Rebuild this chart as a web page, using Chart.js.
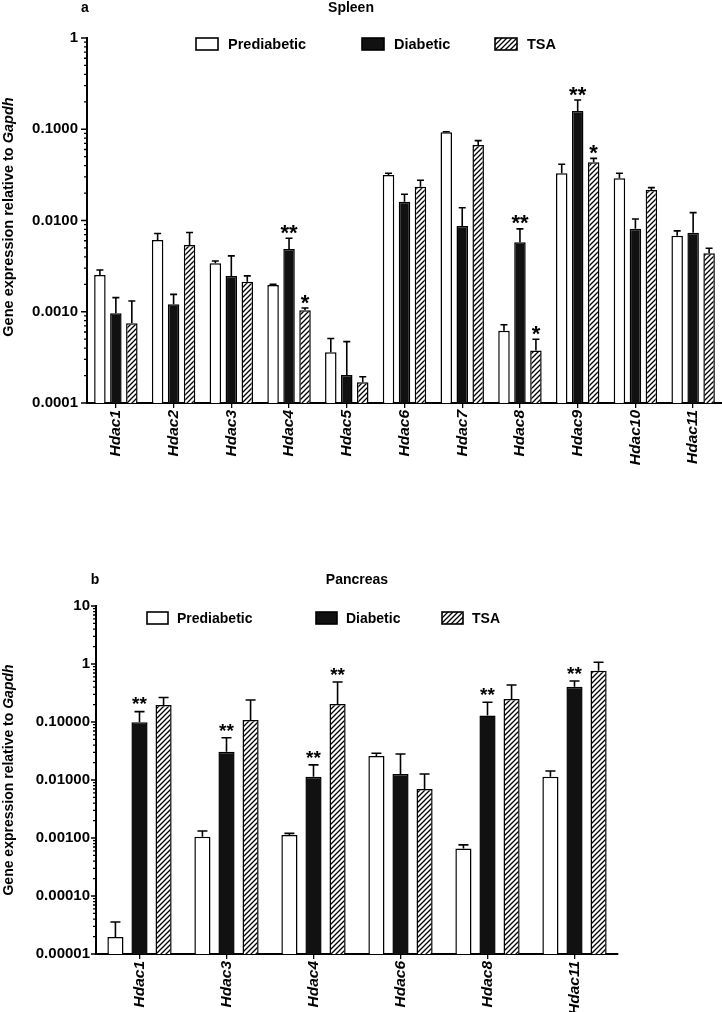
<!DOCTYPE html>
<html><head><meta charset="utf-8">
<script src="https://cdn.jsdelivr.net/npm/chart.js@4.4.1/dist/chart.umd.min.js"></script>
<style>
html,body{margin:0;padding:0;background:#fff;overflow:hidden;width:722px;height:1012px;}
canvas{position:absolute;left:0;}
#ca{top:0}
#cb{top:490px}
</style></head><body>
<canvas id="ca" width="722" height="490"></canvas>
<canvas id="cb" width="722" height="522"></canvas>
<script>
const seriesNames = ['Prediabetic', 'Diabetic', 'TSA'];

// ---- Panel a: Spleen ----
const spleenGenes = ['Hdac1','Hdac2','Hdac3','Hdac4','Hdac5','Hdac6','Hdac7','Hdac8','Hdac9','Hdac10','Hdac11'];
const spleenPrediabetic    = [0.00253, 0.0061, 0.0034, 0.00196, 0.00036, 0.0315, 0.0925, 0.00062, 0.0329, 0.029, 0.0068];
const spleenPrediabeticErr = [0.00287, 0.0072, 0.0036, 0.0020, 0.00051, 0.0330, 0.0940, 0.00072, 0.0413, 0.0329, 0.0077];
const spleenDiabetic       = [0.00096, 0.00121, 0.00247, 0.00487, 0.000203, 0.0161, 0.0087, 0.00577, 0.158, 0.0081, 0.00735];
const spleenDiabeticErr    = [0.00143, 0.00155, 0.0041, 0.00638, 0.00047, 0.0194, 0.0138, 0.0081, 0.209, 0.0104, 0.0122];
const spleenTSA            = [0.00075, 0.0054, 0.00213, 0.00104, 0.000169, 0.0235, 0.0672, 0.000375, 0.0434, 0.0216, 0.00437];
const spleenTSAErr         = [0.00131, 0.0074, 0.00247, 0.0011, 0.000194, 0.0276, 0.075, 0.0005, 0.048, 0.0229, 0.00496];
const spleenPrediabeticSig = ['','','','','','','','','','',''];
const spleenDiabeticSig    = ['','','','**','','','','**','**','',''];
const spleenTSASig         = ['','','','*','','','','*','*','',''];
const spleenTickValues = [0.0001, 0.001, 0.01, 0.1, 1];
const spleenTickLabels = ['0.0001', '0.0010', '0.0100', '0.1000', '1'];

// ---- Panel b: Pancreas ----
const pancreasGenes = ['Hdac1','Hdac3','Hdac4','Hdac6','Hdac8','Hdac11'];
const pancreasPrediabetic    = [0.0000196, 0.00105, 0.00113, 0.026, 0.00066, 0.0114];
const pancreasPrediabeticErr = [0.0000356, 0.00132, 0.0012, 0.0289, 0.00076, 0.0143];
const pancreasDiabetic       = [0.099, 0.0308, 0.0114, 0.0127, 0.129, 0.406];
const pancreasDiabeticErr    = [0.151, 0.0536, 0.0182, 0.028, 0.219, 0.509];
const pancreasTSA            = [0.196, 0.108, 0.204, 0.007, 0.249, 0.766];
const pancreasTSAErr         = [0.264, 0.239, 0.49, 0.0127, 0.435, 1.07];
const pancreasPrediabeticSig = ['','','','','',''];
const pancreasDiabeticSig    = ['**','**','**','','**','**'];
const pancreasTSASig         = ['','','**','','',''];
const pancreasTickValues = [0.00001, 0.0001, 0.001, 0.01, 0.1, 1, 10];
const pancreasTickLabels = ['0.00001', '0.00010', '0.00100', '0.01000', '0.10000', '1', '10'];

const FONT = '"Liberation Sans", Arial, Helvetica, sans-serif';

function hatchPattern() {
  const s = 5;
  const c = document.createElement('canvas');
  c.width = s; c.height = s;
  const g = c.getContext('2d');
  g.fillStyle = '#fff'; g.fillRect(0, 0, s, s);
  g.strokeStyle = '#000'; g.lineWidth = 1.3;
  g.beginPath();
  g.moveTo(0, s); g.lineTo(s, 0);
  g.moveTo(-1, 1); g.lineTo(1, -1);
  g.moveTo(s - 1, s + 1); g.lineTo(s + 1, s - 1);
  g.stroke();
  return document.getElementById('ca').getContext('2d').createPattern(c, 'repeat');
}
const HATCH = hatchPattern();
const FILLS = ['#ffffff', '#111111', HATCH];

const decor = {
  id: 'decor',
  afterDatasetsDraw(chart) {
    const o = chart.options.plugins.decor;
    const ctx = chart.ctx;
    const ys = chart.scales.y;
    ctx.save();
    ctx.strokeStyle = '#000'; ctx.fillStyle = '#000';
    chart.data.datasets.forEach((ds, i) => {
      const meta = chart.getDatasetMeta(i);
      meta.data.forEach((bar, j) => {
        const top = ys.getPixelForValue(ds.err[j]);
        ctx.lineWidth = 1.6;
        ctx.beginPath();
        ctx.moveTo(bar.x, bar.y);
        ctx.lineTo(bar.x, top);
        ctx.moveTo(bar.x - o.cap, top);
        ctx.lineTo(bar.x + o.cap, top);
        ctx.stroke();
        const s = ds.sig[j];
        if (s) {
          ctx.font = 'bold ' + o.starSize + 'px ' + FONT;
          ctx.textAlign = 'center';
          ctx.textBaseline = 'alphabetic';
          ctx.fillText(s, bar.x, top - o.starGap + 0.57 * o.starSize);
        }
      });
    });
    ctx.restore();
  },
  afterDraw(chart) {
    const o = chart.options.plugins.decor;
    const ctx = chart.ctx;
    const ys = chart.scales.y;
    ctx.save();
    ctx.strokeStyle = '#000'; ctx.fillStyle = '#000';
    // minor / major log ticks
    ctx.lineWidth = 1.3;
    const e0 = Math.round(Math.log10(ys.min)), e1 = Math.round(Math.log10(ys.max));
    const ax = ys.right;
    ctx.beginPath();
    for (let e = e0; e <= e1; e++) {
      for (let k = 1; k <= 9; k++) {
        if (e === e1 && k > 1) break;
        const y = ys.getPixelForValue(k * Math.pow(10, e));
        const len = k === 1 ? o.majorTick : o.minorTick;
        ctx.moveTo(ax - len, y); ctx.lineTo(ax, y);
      }
    }
    ctx.stroke();
    // legend
    ctx.font = 'bold ' + o.legendFont + 'px ' + FONT;
    ctx.textAlign = 'left'; ctx.textBaseline = 'middle';
    chart.data.datasets.forEach((ds, i) => {
      const x = o.legendX[i], y = o.legendY;
      ctx.fillStyle = ds.backgroundColor;
      ctx.fillRect(x, y - o.boxH / 2, o.boxW, o.boxH);
      ctx.lineWidth = 1.6;
      ctx.strokeRect(x, y - o.boxH / 2, o.boxW, o.boxH);
      ctx.fillStyle = '#000';
      ctx.fillText(ds.label, x + o.boxW + o.textGap, y + 1);
    });
    // titles
    ctx.font = 'bold 14px ' + FONT;
    ctx.textAlign = 'center';
    ctx.fillText(o.title, o.titleX, o.titleY);
    ctx.fillText(o.letter, o.letterX, o.titleY);
    // y axis title with italic gene name
    const t1 = 'Gene expression relative to ', t2 = 'Gapdh';
    const f1 = 'bold ' + o.yTitleFont + 'px ' + FONT, f2 = 'italic bold ' + o.yTitleFont + 'px ' + FONT;
    ctx.font = f1; const w1 = ctx.measureText(t1).width;
    ctx.font = f2; const w2 = ctx.measureText(t2).width;
    ctx.translate(o.yTitleX, o.yTitleY);
    ctx.rotate(-Math.PI / 2);
    ctx.textAlign = 'left'; ctx.textBaseline = 'middle';
    const sx = -(w1 + w2) / 2;
    ctx.font = f1; ctx.fillText(t1, sx, 0);
    ctx.font = f2; ctx.fillText(t2, sx + w1, 0);
    ctx.restore();
  }
};

function makeChart(id, c) {
  const datasets = seriesNames.map((name, i) => ({
    label: name,
    data: c.values[i],
    err: c.errs[i],
    sig: c.sigs[i],
    backgroundColor: FILLS[i],
    borderColor: '#000',
    borderWidth: 1.5,
    categoryPercentage: c.catPct,
    barPercentage: c.barPct
  }));
  return new Chart(document.getElementById(id), {
    type: 'bar',
    data: { labels: c.labels, datasets },
    options: {
      responsive: false, animation: false, devicePixelRatio: 1,
      layout: { padding: { top: c.padTop, left: 0, right: c.padRight, bottom: 0 } },
      plugins: {
        legend: { display: false }, tooltip: { enabled: false }, title: { display: false },
        decor: c.decor
      },
      scales: {
        x: {
          grid: { display: true, drawOnChartArea: false, drawTicks: true, tickLength: 5, offset: false, color: '#000', lineWidth: 1.3 },
          border: { display: true, color: '#000', width: 2 },
          ticks: { color: '#000', font: { family: FONT, size: c.xFont, weight: 'bold', style: 'italic' }, minRotation: 90, maxRotation: 90, padding: 2, autoSkip: false },
          afterFit: s => { s.height = c.xHeight; }
        },
        y: {
          type: 'logarithmic', min: c.min, max: c.max,
          grid: { display: false, drawTicks: false },
          border: { display: true, color: '#000', width: 2 },
          ticks: { color: '#000', font: { family: FONT, size: 15, weight: 'bold' }, padding: c.yPad, autoSkip: false,
                   callback: (v, i) => c.tickLabels[i] },
          afterBuildTicks: s => { s.ticks = c.tickValues.map(v => ({ value: v })); },
          afterFit: s => { s.width = c.yWidth; }
        }
      }
    },
    plugins: [decor]
  });
}

makeChart('ca', {
  labels: spleenGenes,
  values: [spleenPrediabetic, spleenDiabetic, spleenTSA],
  errs: [spleenPrediabeticErr, spleenDiabeticErr, spleenTSAErr],
  sigs: [spleenPrediabeticSig, spleenDiabeticSig, spleenTSASig],
  tickValues: spleenTickValues, tickLabels: spleenTickLabels,
  min: 0.0001, max: 1,
  catPct: 0.83, barPct: 0.72,
  padTop: 38, padRight: 0, xHeight: 87, yWidth: 87, yPad: 9, xFont: 15.5,
  decor: { cap: 3.5, starSize: 22, starGap: 11, majorTick: 6, minorTick: 3,
           legendX: [196, 362, 495], legendY: 44, boxW: 22, boxH: 12, textGap: 10, legendFont: 14.5,
           title: 'Spleen', titleX: 351, titleY: 8, letter: 'a', letterX: 85,
           yTitleX: 9, yTitleY: 217, yTitleFont: 14.5 }
});

makeChart('cb', {
  labels: pancreasGenes,
  values: [pancreasPrediabetic, pancreasDiabetic, pancreasTSA],
  errs: [pancreasPrediabeticErr, pancreasDiabeticErr, pancreasTSAErr],
  sigs: [pancreasPrediabeticSig, pancreasDiabeticSig, pancreasTSASig],
  tickValues: pancreasTickValues, tickLabels: pancreasTickLabels,
  min: 0.00001, max: 10,
  catPct: 0.83, barPct: 0.67,
  padTop: 116, padRight: 104, xHeight: 58, yWidth: 96, yPad: 6, xFont: 15.5,
  decor: { cap: 5, starSize: 19, starGap: 12, majorTick: 5, minorTick: 3,
           legendX: [147, 316, 442], legendY: 128, boxW: 21, boxH: 12, textGap: 9, legendFont: 14,
           title: 'Pancreas', titleX: 357, titleY: 90, letter: 'b', letterX: 95,
           yTitleX: 9, yTitleY: 290, yTitleFont: 14 }
});
</script>
</body></html>
